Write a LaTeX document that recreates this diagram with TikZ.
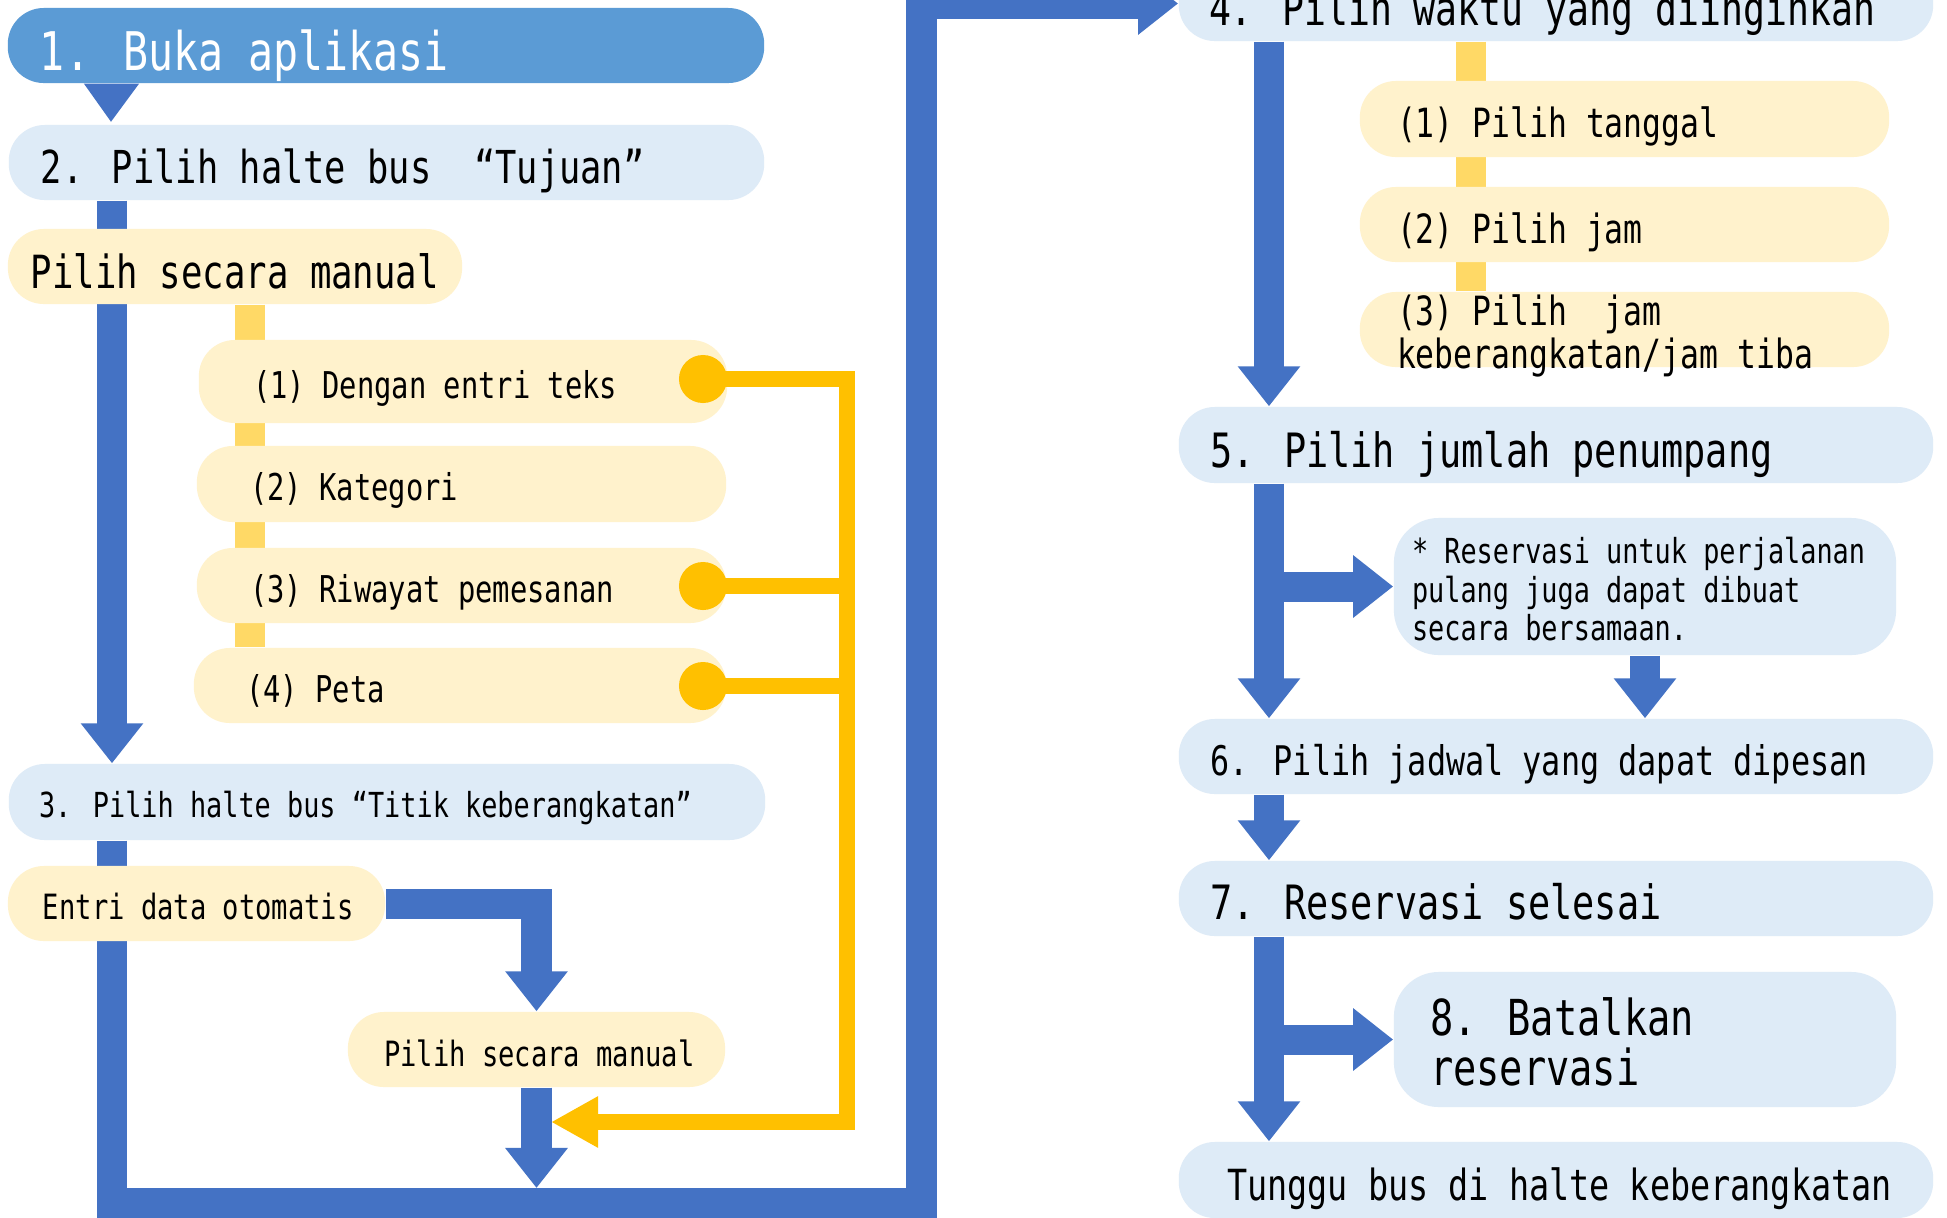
\documentclass[tikz,border=0pt]{standalone}
\usepackage{fontspec}
\newfontfamily\mono[FakeStretch=0.78]{DejaVu Sans Mono}
\usetikzlibrary{arrows.meta,backgrounds}
\definecolor{boxblue}{HTML}{5B9BD5}
\definecolor{lightblue}{HTML}{DEEBF7}
\definecolor{paleyellow}{HTML}{FFF2CC}
\definecolor{spineyellow}{HTML}{FFD966}
\definecolor{dotyellow}{HTML}{FFC000}
\definecolor{arrowblue}{HTML}{4472C4}
\newcommand\fz[1]{\fontsize{#1}{#1}\selectfont}
\tikzset{
  box/.style={rectangle, rounded corners=0.36cm, inner sep=0pt, draw=none},
  bluebox/.style={box, fill=lightblue},
  yelbox/.style={box, fill=paleyellow},
  txt/.style={anchor=base west, inner sep=0pt, outer sep=0pt},
  bline/.style={draw=arrowblue, line width=0.3cm, line join=miter},
  barrow/.style={bline, -{Triangle[width=0.6cm,length=0.4cm]}},
  yspine/.style={draw=spineyellow, line width=0.3cm},
  yline/.style={draw=dotyellow, line width=0.16cm, line join=miter},
  ydot/.style={circle, fill=dotyellow, minimum size=0.48cm, inner sep=0pt},
}
\begin{document}
\begin{tikzpicture}[x=0.01cm,y=-0.01cm]
\useasboundingbox (0,0) rectangle (1947,1217);

% ---------- boxes ----------
\node[box, fill=boxblue, minimum width=7.56cm, minimum height=0.75cm] (b1) at (386,45.5) {};
\node[bluebox, minimum width=7.55cm, minimum height=0.75cm] (b2) at (386.5,162.5) {};
\node[yelbox, minimum width=4.54cm, minimum height=0.75cm] (m1) at (235,266.5) {};
\node[yelbox, minimum width=5.28cm, minimum height=0.83cm] (s1) at (463,381.5) {};
\node[yelbox, minimum width=5.29cm, minimum height=0.76cm] (s2) at (461.5,484) {};
\node[yelbox, minimum width=5.29cm, minimum height=0.75cm] (s3) at (461.5,585.5) {};
\node[yelbox, minimum width=5.32cm, minimum height=0.75cm] (s4) at (460,685.5) {};
\node[bluebox, minimum width=7.56cm, minimum height=0.76cm] (b3) at (387,802) {};
\node[yelbox, minimum width=3.77cm, minimum height=0.75cm] (en) at (196.5,903.5) {};
\node[yelbox, minimum width=3.77cm, minimum height=0.75cm] (m2) at (536.5,1049.5) {};

\node[bluebox, minimum width=7.54cm, minimum height=0.75cm] (b4) at (1556,3.5) {};
\node[yelbox, minimum width=5.29cm, minimum height=0.76cm] (r1) at (1624.5,119) {};
\node[yelbox, minimum width=5.29cm, minimum height=0.75cm] (r2) at (1624.5,224.5) {};
\node[yelbox, minimum width=5.29cm, minimum height=0.75cm] (r3) at (1624.5,329.5) {};
\node[bluebox, minimum width=7.54cm, minimum height=0.76cm] (b5) at (1556,445) {};
\node[bluebox, rounded corners=0.45cm, minimum width=5.02cm, minimum height=1.37cm] (note) at (1645,586.5) {};
\node[bluebox, minimum width=7.54cm, minimum height=0.75cm] (b6) at (1556,756.5) {};
\node[bluebox, minimum width=7.54cm, minimum height=0.75cm] (b7) at (1556,898.5) {};
\node[bluebox, rounded corners=0.45cm, minimum width=5.02cm, minimum height=1.35cm] (b8) at (1645,1039.5) {};
\node[bluebox, minimum width=7.54cm, minimum height=0.76cm] (bt) at (1556,1180) {};

% ---------- helper coordinates ----------
\coordinate (xl) at (112,0);
\coordinate (xs) at (250,0);
\coordinate (xr) at (1269,0);
\coordinate (xys) at (1471,0);
\coordinate (xt) at (111,0);
\coordinate (br) at (921.5,1203);
\coordinate (bbt) at (536.5,1188);
\coordinate (yc) at (847,1122);
\coordinate (ym) at (551,1122);

% ---------- connectors behind boxes ----------
\begin{scope}[on background layer]
\fill[white] (0,0) rectangle (1947,1217);
% yellow spines
\draw[yspine] (m1.south -| xs) -- (s4.north -| xs);
\draw[yspine] (b4.south -| xys) -- (r3.north -| xys);
% left column
\fill[arrowblue] ([xshift=-0.27cm]b1.south -| xt) -- ([xshift=0.28cm]b1.south -| xt) -- ([yshift=-0.38cm]b1.south -| xt) -- cycle;
\draw[barrow] (b2.south -| xl) -- (b3.north -| xl);
\draw[barrow] (b3.south -| xl) |- (br) |- (b4.west);
\draw[barrow] (en.east) -| (m2.north);
\draw[barrow] (m2.south) -- (bbt);
% right column
\draw[barrow] (b4.south -| xr) -- (b5.north -| xr);
\draw[barrow] (b5.south -| xr) -- (b6.north -| xr);
\draw[barrow] (xr |- note.west) -- (note.west);
\draw[barrow] (note.south) -- (b6.north -| note.south);
\draw[barrow] (b6.south -| xr) -- (b7.north -| xr);
\draw[barrow] (b7.south -| xr) -- (bt.north -| xr);
\draw[barrow] (xr |- b8.west) -- (b8.west);
\end{scope}

% ---------- yellow connector ----------
\node[ydot] (d1) at (703,379) {};
\node[ydot] (d3) at (703,586) {};
\node[ydot] (d4) at (703,686) {};
\draw[yline, -{Triangle[width=0.48cm,length=0.47cm]}] (d1.center) -| (yc) -- (ym);
\draw[yline] (d3.center) -- (d3.center -| yc);
\draw[yline] (d4.center) -- (d4.center -| yc);

% ---------- texts ----------
\node[txt, text=white, font={\mono\fz{15.15pt}}] (t1) at (40,70) {1. Buka aplikasi};
\node[txt, font={\mono\fz{12.9pt}}] (t2) at (41,183) {2. Pilih halte bus\ \ “Tujuan”};
\node[txt, font={\mono\fz{13pt}}] (tm1) at (31,288) {Pilih secara manual};
\node[txt, font={\mono\fz{10.5pt}}] (ts1) at (253,398) {(1) Dengan entri teks};
\node[txt, font={\mono\fz{10.5pt}}] (ts2) at (250,500) {(2) Kategori};
\node[txt, font={\mono\fz{10.5pt}}] (ts3) at (250,602) {(3) Riwayat pemesanan};
\node[txt, font={\mono\fz{10.5pt}}] (ts4) at (246,702) {(4) Peta};
\node[txt, font={\mono\fz{9.8pt}}] (t3) at (39,817) {3. Pilih halte bus “Titik keberangkatan”};
\node[txt, font={\mono\fz{9.9pt}}] (ten) at (43,919) {Entri data otomatis};
\node[txt, font={\mono\fz{9.9pt}}] (tm2) at (384,1066) {Pilih secara manual};

\node[txt, font={\mono\fz{13.3pt}}] (t4) at (1209,25) {4. Pilih waktu yang diinginkan};
\node[txt, font={\mono\fz{11.45pt}}] (tr1) at (1397,137) {(1) Pilih tanggal};
\node[txt, font={\mono\fz{11.45pt}}] (tr2) at (1397,243) {(2) Pilih jam};
\node[txt, font={\mono\fz{11.45pt}}] (tr3a) at (1397,325) {(3) Pilih\ \ jam};
\node[txt, font={\mono\fz{11.45pt}}] (tr3b) at (1397,368) {keberangkatan/jam tiba};
\node[txt, font={\mono\fz{13.45pt}}] (t5) at (1210,467) {5. Pilih jumlah penumpang};
\node[txt, font={\mono\fz{9.8pt}}] (tn1) at (1412,563) {* Reservasi untuk perjalanan};
\node[txt, font={\mono\fz{9.8pt}}] (tn2) at (1412,602) {pulang juga dapat dibuat};
\node[txt, font={\mono\fz{9.8pt}}] (tn3) at (1412,640) {secara bersamaan.};
\node[txt, font={\mono\fz{11.6pt}}] (t6) at (1210,775) {6. Pilih jadwal yang dapat dipesan};
\node[txt, font={\mono\fz{13.45pt}}] (t7) at (1210,919) {7. Reservasi selesai};
\node[txt, font={\mono\fz{14.1pt}}] (t8a) at (1430,1035) {8. Batalkan};
\node[txt, font={\mono\fz{14.1pt}}] (t8b) at (1430,1085) {reservasi};
\node[txt, font={\mono\fz{12.2pt}}] (tt) at (1227,1200) {Tunggu bus di halte keberangkatan};
\end{tikzpicture}
\end{document}
